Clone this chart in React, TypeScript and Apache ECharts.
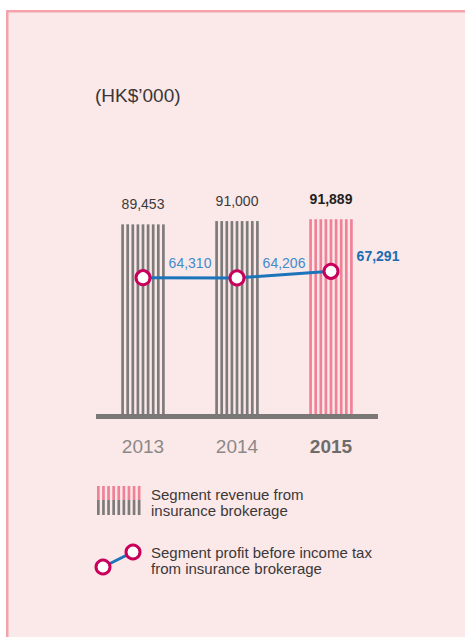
import React, { useEffect, useRef } from "react";
import * as echarts from "echarts";

const years = ["2013", "2014", "2015"];
const revenue = [89453, 91000, 91889];
const profit = [64310, 64206, 67291];
const revenueLabels = ["89,453", "91,000", "91,889"];
const profitLabels = ["64,310", "64,206", "67,291"];
const unitLabel = "(HK$\u2019000)";
const legendRevenue = ["Segment revenue from", "insurance brokerage"];
const legendProfit = ["Segment profit before income tax", "from insurance brokerage"];

const FONT = "'Liberation Sans', Arial, sans-serif";
const GRAY = "#7e7c7b";
const PINK = "#f08298";
const BLUE = "#1c74bb";
const MAGENTA = "#c9005b";
const BG = "#fbe8e9";
const BORDER = "#f4a3ad";

export default function App() {
  const ref = useRef<HTMLDivElement>(null);
  useEffect(() => {
    if (!ref.current) return;
    const chart = echarts.init(ref.current, undefined, { renderer: "svg" });
    const n = 9;
    const period = 5.1;
    const sw = 2.7;
    const totalW = (n - 1) * period + sw;

    const legendStripes: any[] = [];
    for (let i = 0; i < n; i++) {
      legendStripes.push({
        type: "rect",
        shape: { x: 97 + i * period, y: 486, width: sw, height: 14 },
        style: { fill: PINK },
      });
      legendStripes.push({
        type: "rect",
        shape: { x: 97 + i * period, y: 500, width: sw, height: 15 },
        style: { fill: GRAY },
      });
    }

    const option: any = {
      animation: false,
      backgroundColor: "#ffffff",
      grid: { left: 96, right: 87, top: 202, bottom: 223 },
      xAxis: {
        type: "category",
        data: years,
        axisLine: { show: false },
        axisTick: { show: false },
        axisLabel: {
          margin: 23,
          formatter: (v: string, i: number) => (i === 2 ? `{b|${v}}` : `{n|${v}}`),
          rich: {
            n: { fontFamily: FONT, fontSize: 19, color: "#8b8988" },
            b: { fontFamily: FONT, fontSize: 19, fontWeight: "bold", color: "#6e6c6b" },
          },
        },
      },
      yAxis: {
        type: "value",
        min: 0,
        max: 100000,
        show: false,
        splitLine: { show: false },
      },
      graphic: [
        { type: "rect", z: -10, shape: { x: 6, y: 10, width: 459, height: 627 }, style: { fill: BG } },
        { type: "rect", z: -9, shape: { x: 6, y: 10, width: 459, height: 2.5 }, style: { fill: BORDER } },
        { type: "rect", z: -9, shape: { x: 6, y: 10, width: 2.5, height: 627 }, style: { fill: BORDER } },
        {
          type: "text",
          x: 95,
          y: 95,
          style: { text: unitLabel, fontFamily: FONT, fontSize: 19, fill: "#3a3636", verticalAlign: "middle" },
        },
        { type: "rect", z: 5, shape: { x: 96, y: 414, width: 282, height: 5 }, style: { fill: "#7a7877" } },
        { type: "group", children: legendStripes },
        {
          type: "text",
          x: 151,
          y: 486,
          style: {
            text: legendRevenue.join("\n"),
            fontFamily: FONT,
            fontSize: 15,
            lineHeight: 16,
            fill: "#3b3838",
          },
        },
        {
          type: "line",
          shape: { x1: 103, y1: 567, x2: 133, y2: 552 },
          style: { stroke: BLUE, lineWidth: 3 },
        },
        { type: "circle", shape: { cx: 103, cy: 567, r: 7 }, style: { fill: "#fff", stroke: MAGENTA, lineWidth: 3 } },
        { type: "circle", shape: { cx: 133, cy: 552, r: 7 }, style: { fill: "#fff", stroke: MAGENTA, lineWidth: 3 } },
        {
          type: "text",
          x: 151,
          y: 544,
          style: {
            text: legendProfit.join("\n"),
            fontFamily: FONT,
            fontSize: 15,
            lineHeight: 16,
            fill: "#3b3838",
          },
        },
      ],
      series: [
        {
          type: "custom",
          z: 2,
          data: revenue.map((v, i) => [i, v]),
          renderItem: (params: any, api: any) => {
            const idx = api.value(0);
            const val = api.value(1);
            const top = api.coord([idx, val]);
            const base = api.coord([idx, 0]);
            const color = idx === years.length - 1 ? PINK : GRAY;
            const x0 = top[0] - totalW / 2;
            const children: any[] = [];
            for (let i = 0; i < n; i++) {
              children.push({
                type: "rect",
                shape: { x: x0 + i * period, y: top[1], width: sw, height: base[1] - top[1] },
                style: { fill: color },
              });
            }
            const isLast = idx === years.length - 1;
            children.push({
              type: "text",
              x: top[0],
              y: top[1] - 20,
              style: {
                text: revenueLabels[idx],
                fontFamily: FONT,
                fontSize: 14,
                fontWeight: isLast ? "bold" : "normal",
                fill: isLast ? "#231f20" : "#3d3a3a",
                align: "center",
                verticalAlign: "middle",
              },
            });
            return { type: "group", children };
          },
        },
        {
          type: "line",
          z: 4,
          data: profit.map((v, i) => ({
            value: v,
            label: {
              show: true,
              position: "inside",
              offset: [47, -15],
              formatter: profitLabels[i],
              fontFamily: FONT,
              fontSize: 14,
              fontWeight: i === profit.length - 1 ? "bold" : "normal",
              color: i === profit.length - 1 ? "#1a6db3" : "#3f8ccb",
            },
          })),
          symbol: "circle",
          symbolSize: 14,
          showSymbol: true,
          itemStyle: { color: "#ffffff", borderColor: MAGENTA, borderWidth: 3 },
          lineStyle: { color: BLUE, width: 3 },
        },
      ],
    };
    chart.setOption(option);
    return () => chart.dispose();
  }, []);
  return (
    <div
      ref={ref}
      style={{ position: "fixed", left: 0, top: 0, width: 465, height: 637 }}
    />
  );
}
